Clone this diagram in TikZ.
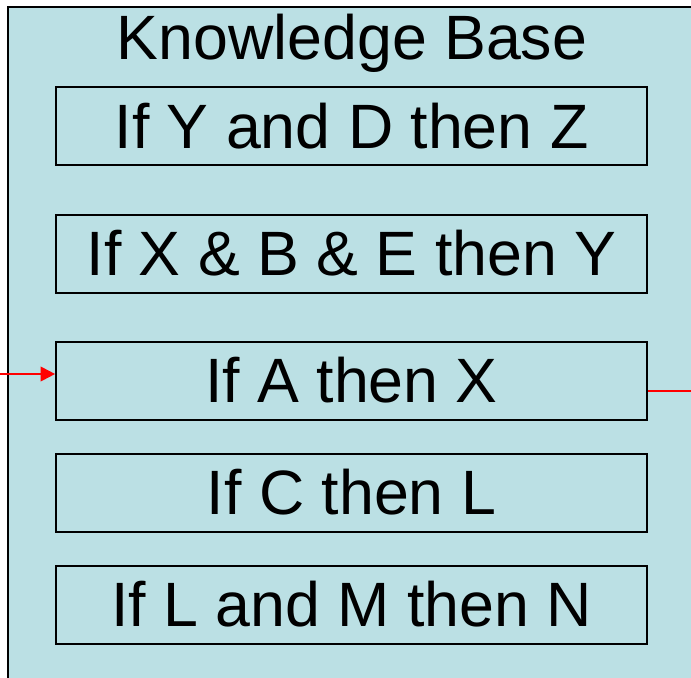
\documentclass[tikz,border=0pt]{standalone}
\usepackage{fontspec}
\setmainfont{Liberation Sans}
\usetikzlibrary{positioning,arrows.meta}
\definecolor{kbfill}{RGB}{187,224,228}

\begin{document}
\begin{tikzpicture}[x=0.75pt,y=-0.75pt,
    rulebox/.style={draw, line width=1.5pt, minimum width=443pt, minimum height=58.5pt, inner sep=0pt, font=\fontsize{47}{50}\selectfont},
    link/.style={draw=red, line width=1.5pt}]
    \useasboundingbox (0,0) rectangle (691,677);
    \fill[white] (0,0) rectangle (691,677);
    % the knowledge base frame, running off the page
    \draw[fill=kbfill, line width=2pt] (8,7) rectangle (720,720);
    \node[font=\fontsize{47}{50}\selectfont, anchor=base] (title) at (352,60) {Knowledge Base};
    \node[rulebox] (r1) at (351.5,126.5) {If Y and D then Z};
    \node[rulebox, below=35.25pt of r1] (r2) {If X \& B \& E then Y};
    \node[rulebox, below=35.25pt of r2] (r3) {If A then X};
    \node[rulebox, below=24pt of r3] (r4) {If C then L};
    \node[rulebox, below=24pt of r4] (r5) {If L and M then N};
    % input and output
    \coordinate (kbin) at (0,374);
    \coordinate (kbout) at (691,391);
    \draw[link, -{Triangle[length=11pt,width=11pt]}] (kbin) -- (kbin -| r3.west);
    \draw[link] (r3.east |- kbout) -- (kbout);
\end{tikzpicture}
\end{document}
